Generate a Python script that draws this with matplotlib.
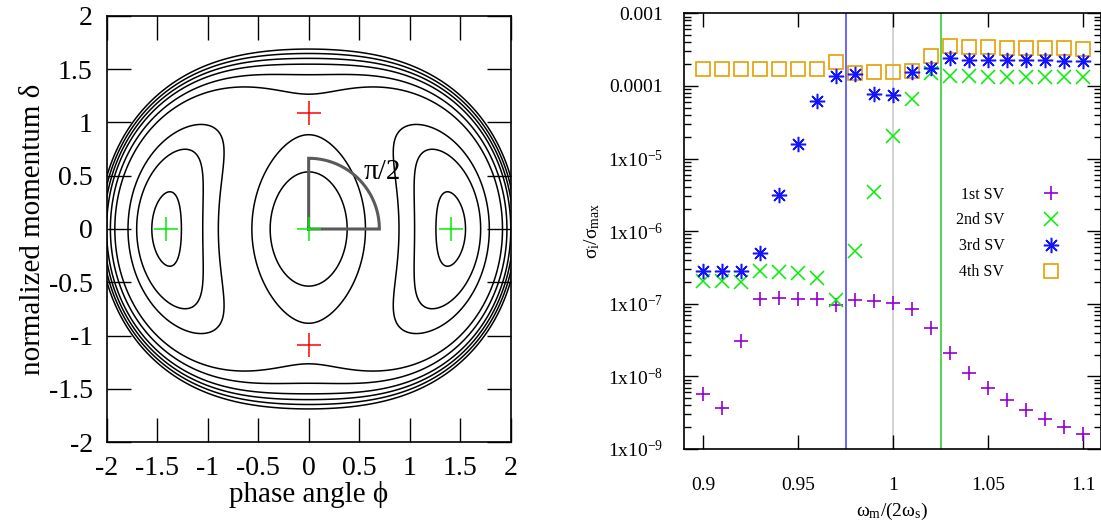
import matplotlib

matplotlib.use("Agg")

import matplotlib.pyplot as plt
import numpy as np
from matplotlib.ticker import FixedLocator, LogLocator, NullFormatter, NullLocator

plt.rcParams["font.family"] = ["Liberation Serif", "DejaVu Serif"]
plt.rcParams["mathtext.fontset"] = "custom"
plt.rcParams["mathtext.rm"] = "Liberation Serif"
plt.rcParams["mathtext.it"] = "Liberation Serif:italic"
plt.rcParams["axes.unicode_minus"] = False

# left panel: H = a phi^2 + b delta^2 + c phi^4 + d delta^4 + e phi^2 delta^2
coef_phi2 = -4.0
coef_delta2 = -2.22
coef_phi4 = 1.0
coef_delta4 = 0.933
coef_mixed = 1.8
contour_levels = [-3.83, -3.19, -2.56, -1.165, -0.56, 0.02, 0.43, 0.83, 1.24]
stable_phi = [-1.414, 0.0, 1.414]
stable_delta = [0.0, 0.0, 0.0]
unstable_phi = [0.0, 0.0]
unstable_delta = [1.09, -1.09]
arc_rx = 0.7
arc_ry = 0.663
phase_ticks = [-2, -1.5, -1, -0.5, 0, 0.5, 1, 1.5, 2]

# right panel: singular values vs modulation frequency
omega_ratio = [0.90, 0.91, 0.92, 0.93, 0.94, 0.95, 0.96, 0.97, 0.98, 0.99, 1.00,
               1.01, 1.02, 1.03, 1.04, 1.05, 1.06, 1.07, 1.08, 1.09, 1.10]
sv1 = [5.7e-9, 3.7e-9, 3.05e-8, 1.15e-7, 1.19e-7, 1.15e-7, 1.15e-7, 9.5e-8, 1.11e-7,
       1.09e-7, 1.04e-7, 8.5e-8, 4.7e-8, 2.1e-8, 1.12e-8, 6.9e-9, 4.7e-9, 3.45e-9,
       2.6e-9, 2.0e-9, 1.6e-9]
sv2 = [2.09e-7, 2.03e-7, 2.0e-7, 2.79e-7, 2.73e-7, 2.64e-7, 2.28e-7, 1.11e-7, 5.4e-7,
       3.46e-6, 2.03e-5, 6.6e-5, 1.52e-4, 1.36e-4, 1.35e-4, 1.34e-4, 1.34e-4, 1.33e-4,
       1.33e-4, 1.32e-4, 1.31e-4]
sv3 = [2.79e-7, 2.79e-7, 2.79e-7, 5.05e-7, 3.12e-6, 1.61e-5, 6.24e-5, 1.36e-4, 1.45e-4,
       7.7e-5, 7.5e-5, 1.57e-4, 1.78e-4, 2.39e-4, 2.3e-4, 2.28e-4, 2.27e-4, 2.25e-4,
       2.24e-4, 2.23e-4, 2.22e-4]
sv4 = [1.70e-4, 1.70e-4, 1.70e-4, 1.70e-4, 1.70e-4, 1.70e-4, 1.70e-4, 2.15e-4, 1.50e-4,
       1.57e-4, 1.57e-4, 1.62e-4, 2.6e-4, 3.5e-4, 3.43e-4, 3.4e-4, 3.35e-4, 3.3e-4,
       3.3e-4, 3.28e-4, 3.25e-4]
sv_labels = ["1st SV", "2nd SV", "3rd SV", "4th SV"]
marker_lines = [0.975, 1.0, 1.025]
marker_line_colors = ["#3c3cff", "#c8c8c8", "#22cc22"]
omega_ticks = [0.9, 0.95, 1.0, 1.05, 1.1]
omega_ticklabels = ["0.9", "0.95", "1", "1.05", "1.1"]
sv_ticks = [1e-9, 1e-8, 1e-7, 1e-6, 1e-5, 1e-4, 1e-3]
sv_ticklabels = [r"1x10$^{-9}$", r"1x10$^{-8}$", r"1x10$^{-7}$", r"1x10$^{-6}$",
                 r"1x10$^{-5}$", "0.0001", "0.001"]

fig = plt.figure(figsize=(11.01, 5.23), dpi=100)

# ---- phase space
ax = fig.add_axes([0.0969, 0.1543, 0.3669, 0.8157])
grid = np.linspace(-2.3, 2.3, 700)
phi, delta = np.meshgrid(grid, grid)
ham = (coef_phi2 * phi**2 + coef_delta2 * delta**2 + coef_phi4 * phi**4
       + coef_delta4 * delta**4 + coef_mixed * phi**2 * delta**2)
ax.contour(phi, delta, ham, levels=contour_levels, colors="black", linewidths=1.1,
           linestyles="solid")

t = np.linspace(0, np.pi / 2, 60)
ax.plot(np.concatenate([[0, 0], arc_rx * np.sin(t), [0]]),
        np.concatenate([[0, arc_ry], arc_ry * np.cos(t), [0]]),
        color="#5a5a5a", lw=2.2, solid_joinstyle="miter", zorder=3)
ax.text(0.54, 0.53, "π/2", fontsize=21, ha="left", va="center")

ax.plot(stable_phi, stable_delta, "+", color="#00ee00", ms=17, mew=1.1, zorder=4)
ax.plot(unstable_phi, unstable_delta, "+", color="#ff0000", ms=17, mew=1.1, zorder=4)

ax.set_xlim(-2, 2)
ax.set_ylim(-2, 2)
ax.set_xticks(phase_ticks)
ax.set_yticks(phase_ticks)
ax.set_xticklabels([f"{v:g}" for v in phase_ticks])
ax.set_yticklabels([f"{v:g}" for v in phase_ticks])
ax.tick_params(direction="in", length=17, width=1, labelsize=20, top=True, right=True, pad=10)
ax.set_xlabel("phase angle ϕ", fontsize=21, labelpad=0)
ax.set_ylabel("normalized momentum δ", fontsize=21, labelpad=2)
for spine in ax.spines.values():
    spine.set_linewidth(1.2)

# ---- singular values
bx = fig.add_axes([0.6213, 0.1415, 0.3783, 0.8331])
for pos, col in zip(marker_lines, marker_line_colors):
    bx.axvline(pos, color=col, lw=1.1, zorder=1)

bx.plot(omega_ratio, sv1, ls="none", marker="+", color="#9400d3", ms=10, mew=1.2,
        label=sv_labels[0], zorder=3)
bx.plot(omega_ratio, sv2, ls="none", marker="x", color="#00ee00", ms=10, mew=1.1,
        label=sv_labels[1], zorder=3)
bx.plot(omega_ratio, sv3, ls="none", marker=(8, 2, 0), color="#1414ff", ms=11, mew=1.1,
        label=sv_labels[2], zorder=3)
bx.plot(omega_ratio, sv4, ls="none", marker="s", mfc="none", mec="#e69f00", ms=10.5,
        mew=1.2, label=sv_labels[3], zorder=2)

bx.set_yscale("log")
bx.set_xlim(0.89, 1.109)
bx.set_ylim(1e-9, 1e-3)
bx.xaxis.set_major_locator(FixedLocator(omega_ticks))
bx.set_xticklabels(omega_ticklabels)
bx.xaxis.set_minor_locator(NullLocator())
bx.yaxis.set_major_locator(FixedLocator(sv_ticks))
bx.set_yticklabels(sv_ticklabels)
bx.yaxis.set_minor_locator(LogLocator(base=10, subs=np.arange(2, 10)))
bx.yaxis.set_minor_formatter(NullFormatter())
bx.tick_params(which="major", direction="in", length=10, width=1, labelsize=14,
               top=True, right=True)
bx.tick_params(axis="x", which="major", pad=20)
bx.tick_params(axis="y", which="major", pad=15)
bx.tick_params(which="minor", direction="in", length=5, width=1, top=True, right=True)
bx.set_xlabel(r"ω$_{\mathrm{m}}$/(2ω$_{\mathrm{s}}$)", fontsize=14, labelpad=5)
bx.set_ylabel(r"σ$_{\mathrm{i}}$/σ$_{\mathrm{max}}$", fontsize=14, labelpad=4)
for spine in bx.spines.values():
    spine.set_linewidth(1.2)

bx.legend(loc="upper left", bbox_to_anchor=(0.637, 0.617), frameon=False, markerfirst=False,
          fontsize=11.5, handlelength=2.0, handletextpad=1.9, labelspacing=0.62,
          borderaxespad=0)

fig.savefig("out.png", dpi=100)
